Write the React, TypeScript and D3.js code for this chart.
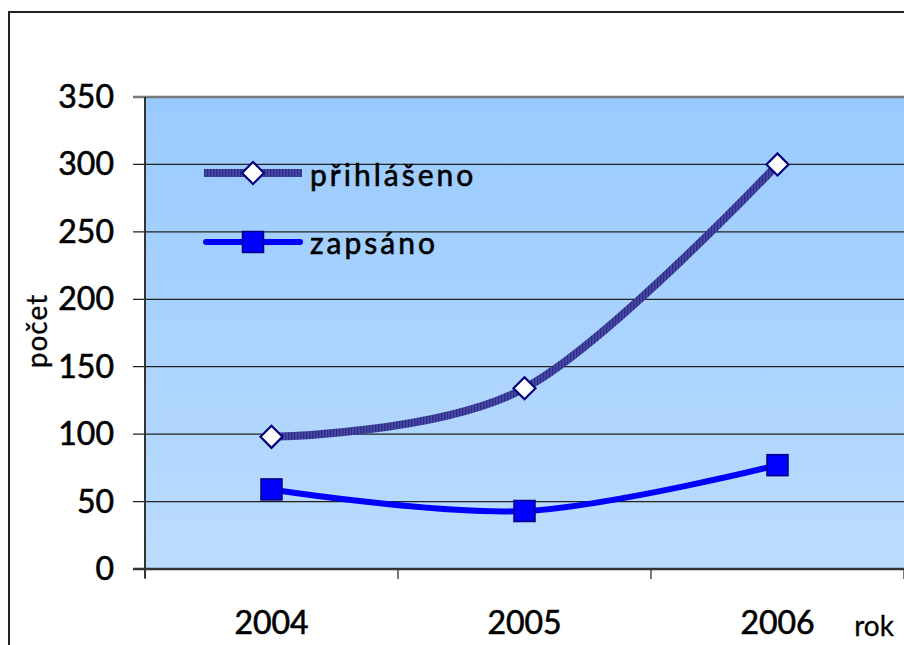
import React from "react";
import * as d3 from "d3";

const years = ["2004", "2005", "2006"];
const prihlaseno = [98, 134, 300];
const zapsano = [59, 43, 77];
const yTicks = [0, 50, 100, 150, 200, 250, 300, 350];
const seriesNames = ["přihlášeno", "zapsáno"];

const W = 904;
const H = 645;
const FONT = "Lato, 'Open Sans', sans-serif";

export default function App() {
  const x = d3.scaleBand<string>().domain(years).range([145, 904]).padding(0);
  const y = d3.scaleLinear().domain([0, 350]).range([569, 97]);
  const cx = (d: string) => (x(d) as number) + x.bandwidth() / 2;

  const line = d3
    .line<number>()
    .x((_, i) => cx(years[i]))
    .y((d) => y(d))
    .curve(d3.curveCatmullRom.alpha(0));

  const plotLeft = 145;
  const plotRight = 904;
  const plotTop = y(350);
  const plotBottom = y(0);

  const diamond = (px: number, py: number, r: number) =>
    `M${px},${py - r}L${px + r},${py}L${px},${py + r}L${px - r},${py}Z`;

  const xTickPos = [...years.map((d) => x(d) as number), plotRight];
  const textStroke = { stroke: "#000", strokeWidth: 0.6 };

  return (
    <svg
      width={W}
      height={H}
      style={{ position: "absolute", left: 0, top: 0, background: "#fff" }}
      fontFamily={FONT}
    >
      <defs>
        <linearGradient id="bg" x1="0" y1="0" x2="0" y2="1">
          <stop offset="0" stopColor="#99caff" />
          <stop offset="1" stopColor="#bbdcfe" />
        </linearGradient>
        <pattern id="hatch" patternUnits="userSpaceOnUse" width="3" height="3">
          <rect width="3" height="3" fill="#4848a8" />
          <rect width="1.3" height="3" fill="#2c2c84" />
        </pattern>
      </defs>

      {/* outer frame */}
      <path d={`M9,${H}V12H${W}`} fill="none" stroke="#222" strokeWidth={2} />

      {/* plot area */}
      <rect
        x={plotLeft}
        y={plotTop}
        width={plotRight - plotLeft}
        height={plotBottom - plotTop}
        fill="url(#bg)"
      />

      {/* gridlines */}
      {yTicks.map((t) => (
        <line
          key={t}
          x1={133}
          x2={plotRight}
          y1={y(t)}
          y2={y(t)}
          stroke={t === 350 ? "#7a7a7a" : t === 0 ? "#333" : "#222"}
          strokeWidth={t === 350 ? 2.5 : t === 0 ? 2.5 : 1.3}
        />
      ))}

      {/* y axis line */}
      <line x1={plotLeft} x2={plotLeft} y1={plotTop} y2={plotBottom + 9} stroke="#333" strokeWidth={2} />

      {/* x ticks */}
      {xTickPos.map((p, i) => (
        <line key={i} x1={p} x2={p} y1={plotBottom} y2={plotBottom + 10} stroke="#333" strokeWidth={1.3} />
      ))}

      {/* y tick labels */}
      {yTicks.map((t) => (
        <text key={t} x={114} y={y(t) + 11} textAnchor="end" fontSize={32} fill="#000" {...textStroke}>
          {t}
        </text>
      ))}

      {/* x tick labels */}
      {years.map((d) => (
        <text key={d} x={cx(d)} y={634} textAnchor="middle" fontSize={32} fill="#000" {...textStroke}>
          {d}
        </text>
      ))}

      <text x={874} y={636} textAnchor="middle" fontSize={28} fill="#000" stroke="#000" strokeWidth={0.3}>
        rok
      </text>
      <text
        transform={`translate(47,331) rotate(-90)`}
        textAnchor="middle"
        fontSize={28}
        fill="#000"
        letterSpacing={1}
        stroke="#000"
        strokeWidth={0.3}
      >
        počet
      </text>

      {/* series přihlášeno */}
      <path d={line(prihlaseno) || ""} fill="none" stroke="url(#hatch)" strokeWidth={8} />
      {prihlaseno.map((v, i) => (
        <path
          key={i}
          d={diamond(cx(years[i]), y(v), 11)}
          fill="#fff"
          stroke="#000080"
          strokeWidth={2.2}
        />
      ))}

      {/* series zapsáno */}
      <path d={line(zapsano) || ""} fill="none" stroke="#0000ff" strokeWidth={6} strokeLinecap="round" />
      {zapsano.map((v, i) => (
        <rect
          key={i}
          x={cx(years[i]) - 10.5}
          y={y(v) - 10.5}
          width={21}
          height={21}
          fill="#0000ff"
          stroke="#000080"
          strokeWidth={1.5}
        />
      ))}

      {/* legend */}
      <g>
        <line x1={204} x2={302} y1={173} y2={173} stroke="url(#hatch)" strokeWidth={8} />
        <path d={diamond(253, 173, 11)} fill="#fff" stroke="#000080" strokeWidth={2.2} />
        <text x={310} y={186} fontSize={30} letterSpacing={3} fill="#000" {...textStroke}>
          {seriesNames[0]}
        </text>
        <line x1={206} x2={300} y1={242} y2={242} stroke="#0000ff" strokeWidth={6} strokeLinecap="round" />
        <rect x={242.5} y={231.5} width={21} height={21} fill="#0000ff" stroke="#000080" strokeWidth={1.5} />
        <text x={310} y={254} fontSize={30} letterSpacing={3} fill="#000" {...textStroke}>
          {seriesNames[1]}
        </text>
      </g>
    </svg>
  );
}
